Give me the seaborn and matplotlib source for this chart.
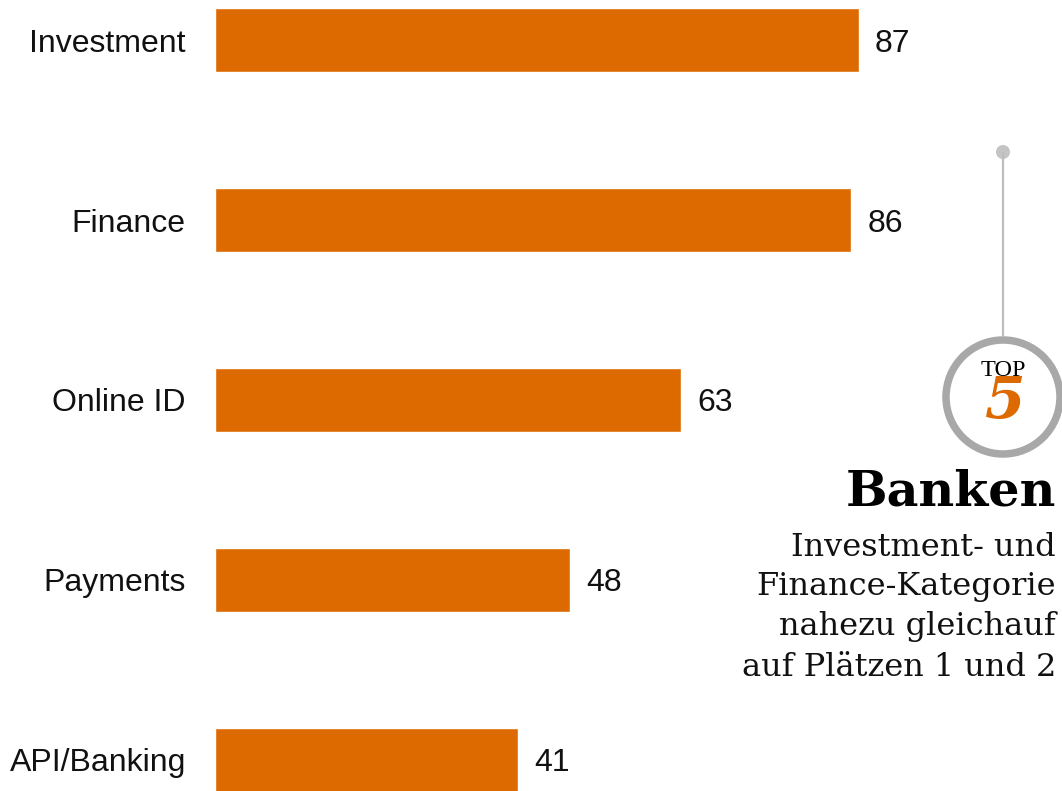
import matplotlib
matplotlib.use("Agg")
import matplotlib.pyplot as plt
import seaborn as sns
import pandas as pd
from matplotlib.patches import Circle

categories = ["Investment", "Finance", "Online ID", "Payments", "API/Banking"]
values = [87, 86, 63, 48, 41]

title_text = "Banken"
body_lines = ["Investment- und", "Finance-Kategorie", "nahezu gleichauf", "auf Plätzen 1 und 2"]
badge_top = "TOP"
badge_num = "5"

BAR_COLOR = "#DD6A00"

sns.set_theme(style="white")
plt.rcParams['font.family'] = ['Liberation Sans', 'DejaVu Sans']

W, H = 1062, 791
fig = plt.figure(figsize=(W / 100, H / 100), dpi=100)
fig.patch.set_facecolor("white")

left_px = 215
ax = fig.add_axes([left_px / W, 0, 1 - left_px / W, 1])
df = pd.DataFrame({"cat": categories, "val": values})
sns.barplot(data=df, x="val", y="cat", orient="h", color=BAR_COLOR, saturation=1,
            width=64 / 180, ax=ax, errorbar=None)

px_per_unit = 7.40
ax.set_xlim(0, (W - left_px) / px_per_unit)
ax.set_ylim((H - 40) / 180, -40 / 180)
ax.set_xlabel("")
ax.set_ylabel("")
ax.set_xticks([])
for s in ax.spines.values():
    s.set_visible(False)
ax.set_facecolor("none")
ax.tick_params(axis="y", length=0, pad=21, labelsize=23, labelcolor="#111111")
for lbl in ax.get_yticklabels():
    lbl.set_fontfamily(['Liberation Sans', 'DejaVu Sans'])
    lbl.set_verticalalignment("center_baseline")

for i, v in enumerate(values):
    ax.annotate(str(v), xy=(v, i), xytext=(16, 0), textcoords="offset pixels",
                ha="left", va="center_baseline", fontsize=23, color="#111111",
                family=['Liberation Sans', 'DejaVu Sans'])

# Annotation overlay in figure pixel coordinates
ov = fig.add_axes([0, 0, 1, 1])
ov.set_xlim(0, W)
ov.set_ylim(H, 0)
ov.axis("off")
ov.patch.set_alpha(0)

cx, cy = 1003, 397
ov.plot([cx, cx], [152, cy - 60], color="#bdbdbd", lw=1.6, solid_capstyle="butt")
ov.add_patch(Circle((cx, 152), 7, facecolor="#c4c4c4", edgecolor="none"))
ov.add_patch(Circle((cx, cy), 57, facecolor="white", edgecolor="#a8a8a8", lw=5.4))
ov.text(cx, 370, badge_top, ha="center", va="center", fontsize=17.5,
        family="Liberation Serif", color="black")
ov.text(cx + 2, 396, badge_num, ha="center", va="center_baseline", fontsize=42,
        family="DejaVu Serif", style="italic", weight="bold", color=BAR_COLOR)

ov.text(1056, 492, title_text, ha="right", va="center", fontsize=35.5,
        family="DejaVu Serif", weight="bold", color="black")
for k, line in enumerate(body_lines):
    ov.text(1056, 547 + 40 * k, line, ha="right", va="center", fontsize=23,
            family="DejaVu Serif", color="#111111")

fig.savefig("out.png", dpi=100, facecolor="white")
